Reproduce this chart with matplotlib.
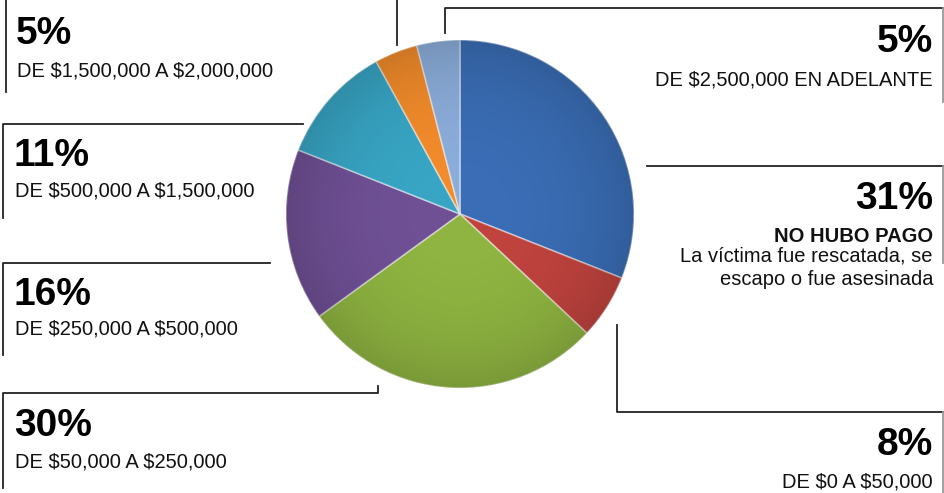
import numpy as np
import matplotlib
matplotlib.use("Agg")
import matplotlib.pyplot as plt
from matplotlib.patches import Circle

plt.rcParams['font.family'] = ['Liberation Sans', 'DejaVu Sans']
plt.rcParams['text.parse_math'] = False

# slice shares as drawn (clockwise from 12 o'clock)
shares = [31, 6, 28, 16, 11, 4, 4]
colors = ['#3a6db5', '#c0433e', '#8fb441', '#6f5095', '#38a5c4', '#f28b2b', '#8badda']

# callout texts
pcts = ['31%', '8%', '30%', '16%', '11%', '5%', '5%']
descs = ['NO HUBO PAGO', 'DE $0 A $50,000', 'DE $50,000 A $250,000',
         'DE $250,000 A $500,000', 'DE $500,000 A $1,500,000',
         'DE $1,500,000 A $2,000,000', 'DE $2,500,000 EN ADELANTE']
note = 'La víctima fue rescatada, se\nescapo o fue asesinada'

W, H = 944, 493
fig = plt.figure(figsize=(W / 100, H / 100), dpi=100)

# background axes in pixel coordinates for lines and text
bg = fig.add_axes([0, 0, 1, 1])
bg.set_xlim(0, W)
bg.set_ylim(H, 0)
bg.axis('off')

# pie
cx, cy, r = 460, 214, 174
pax = fig.add_axes([(cx - r) / W, (H - cy - r) / H, 2 * r / W, 2 * r / H])
wedges, _ = pax.pie(shares, colors=colors, startangle=90, counterclock=False,
                    wedgeprops=dict(linewidth=1.2))
for w in wedges:
    w.set_edgecolor((1, 1, 1, 0.45))
pax.set_xlim(-1, 1)
pax.set_ylim(-1, 1)
pax.set_aspect('equal')
pax.axis('off')

# soft shading over the pie
yy, xx = np.mgrid[-1:1:300j, -1:1:300j]
shade = np.zeros((300, 300, 4))
shade[..., 3] = np.clip(0.15 * (np.hypot(xx, yy) ** 3), 0, 0.22)
im = pax.imshow(shade, extent=(-1, 1, -1, 1), origin='lower', zorder=5)
im.set_clip_path(Circle((0, 0), 1, transform=pax.transData))

lc = '#222222'
lw = 1.3
gc = '#999999'
# callout frames
bg.plot([6, 6], [0, 92], color=lc, lw=lw)
bg.plot([397, 397], [0, 45], color=lc, lw=lw)

bg.plot([445, 445, W], [33, 8, 8], color=lc, lw=lw)
bg.plot([943, 943], [8, 102], color=gc, lw=lw)

bg.plot([647, W], [166, 166], color=lc, lw=lw)
bg.plot([943, 943], [166, 263], color=gc, lw=lw)

bg.plot([617, 617, W], [325, 412, 412], color=lc, lw=lw)
bg.plot([943, 943], [412, H], color=gc, lw=lw)

bg.plot([3, 3, 303], [218, 124, 124], color=lc, lw=lw)
bg.plot([3, 3, 270], [355, 263, 263], color=lc, lw=lw)
bg.plot([3, 3, 378, 378], [488, 393, 393, 386], color=lc, lw=lw)

big = dict(fontsize=28, fontweight='bold', color='black', va='center')
small = dict(fontsize=14.5, color='#111111', va='center')

# left side
bg.text(16, 34, pcts[5], ha='left', **big)
bg.text(17, 71, descs[5], ha='left', **small)
bg.text(14, 156, pcts[4], ha='left', **big)
bg.text(15, 191, descs[4], ha='left', **small)
bg.text(14, 295, pcts[3], ha='left', **big)
bg.text(15, 329, descs[3], ha='left', **small)
bg.text(14, 426, pcts[2], ha='left', **big)
bg.text(15, 462, descs[2], ha='left', **small)

# right side
bg.text(933, 42, pcts[6], ha='right', **big)
bg.text(933, 80, descs[6], ha='right', **small)
bg.text(933, 199, pcts[0], ha='right', **big)
bg.text(933, 237, descs[0], ha='right', fontsize=14.5, fontweight='bold',
        color='#111111', va='center')
bg.text(933, 268, note, ha='right', va='center', fontsize=14.5, color='#111111',
        linespacing=1.3, multialignment='right')
bg.text(933, 445, pcts[1], ha='right', **big)
bg.text(933, 482, descs[1], ha='right', **small)

fig.savefig('out.png', dpi=100)
